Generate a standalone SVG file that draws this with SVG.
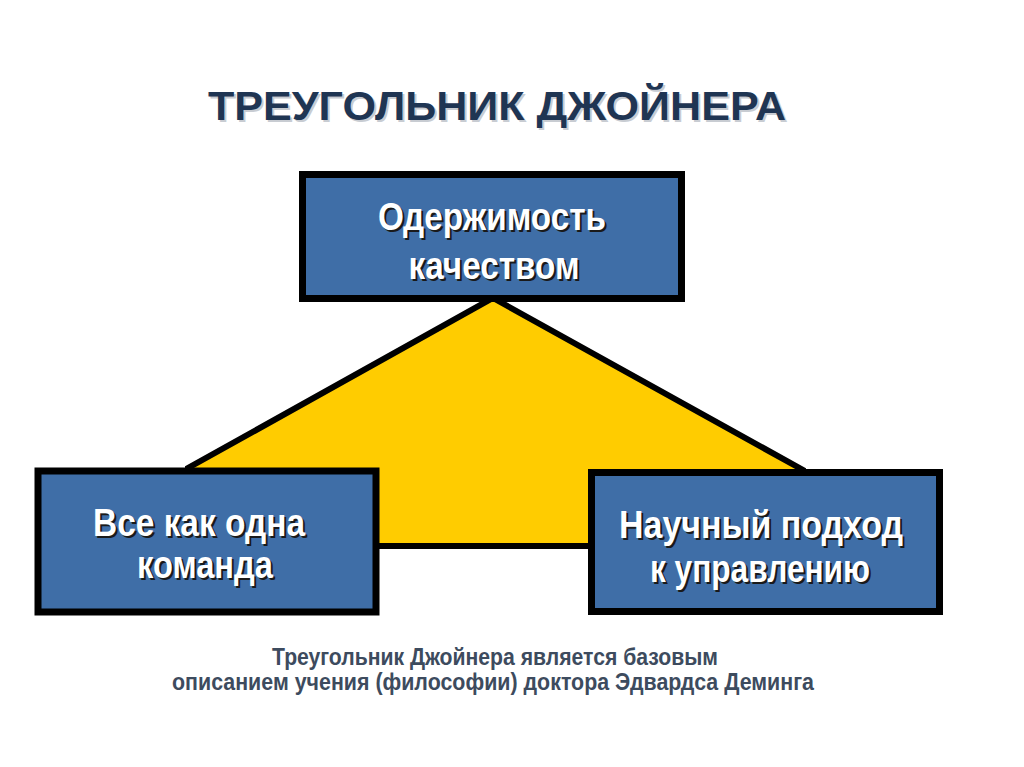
<svg xmlns="http://www.w3.org/2000/svg" width="1024" height="767" viewBox="0 0 1024 767">
<defs>
<style>
.box{fill:#3f6ea7;stroke:#000;stroke-width:7}
.bt{font-family:"Liberation Sans",Arial,sans-serif;font-weight:bold;font-size:38px;fill:#fff;text-anchor:middle}
.sh{font-family:"Liberation Sans",Arial,sans-serif;font-weight:bold;font-size:38px;fill:#1a1a1a;text-anchor:middle}
</style>
</defs>
<rect width="1024" height="767" fill="#fff"/>
<g id="title">
<text x="499" y="122" font-family="Liberation Sans,Arial,sans-serif" font-weight="bold" font-size="41" fill="#c8ccd2" text-anchor="middle" textLength="578" lengthAdjust="spacingAndGlyphs">ТРЕУГОЛЬНИК ДЖОЙНЕРА</text>
<text x="497" y="120" font-family="Liberation Sans,Arial,sans-serif" font-weight="bold" font-size="41" fill="#1f3553" text-anchor="middle" textLength="578" lengthAdjust="spacingAndGlyphs">ТРЕУГОЛЬНИК ДЖОЙНЕРА</text>
</g>
<g id="connectors">
<polygon points="493,298 803,470 803,546 188,546 188,468" fill="#ffcc00" stroke="#000" stroke-width="6" stroke-linejoin="miter"/>
</g>
<g id="node-top">
<rect class="box" x="302.5" y="174.5" width="379" height="124"/>
<text class="sh" x="494" y="232" textLength="228" lengthAdjust="spacingAndGlyphs">Одержимость</text>
<text class="bt" x="492" y="230" textLength="228" lengthAdjust="spacingAndGlyphs">Одержимость</text>
<text class="sh" x="496" y="281" textLength="171" lengthAdjust="spacingAndGlyphs">качеством</text>
<text class="bt" x="494" y="279" textLength="171" lengthAdjust="spacingAndGlyphs">качеством</text>
</g>
<g id="node-left">
<rect class="box" x="38" y="471" width="338" height="141"/>
<text class="sh" x="201" y="538" textLength="212" lengthAdjust="spacingAndGlyphs">Все как одна</text>
<text class="bt" x="199" y="536" textLength="212" lengthAdjust="spacingAndGlyphs">Все как одна</text>
<text class="sh" x="207" y="580" textLength="136" lengthAdjust="spacingAndGlyphs">команда</text>
<text class="bt" x="205" y="578" textLength="136" lengthAdjust="spacingAndGlyphs">команда</text>
</g>
<g id="node-right">
<rect class="box" x="591.5" y="472.5" width="348" height="139"/>
<text class="sh" x="763" y="540" textLength="284" lengthAdjust="spacingAndGlyphs">Научный подход</text>
<text class="bt" x="761" y="538" textLength="284" lengthAdjust="spacingAndGlyphs">Научный подход</text>
<text class="sh" x="762" y="584" textLength="220" lengthAdjust="spacingAndGlyphs">к управлению</text>
<text class="bt" x="760" y="582" textLength="220" lengthAdjust="spacingAndGlyphs">к управлению</text>
</g>
<g id="caption" font-family="Liberation Sans,Arial,sans-serif" font-weight="bold" font-size="23" fill="#3d4b5e" text-anchor="middle">
<text x="495" y="665" textLength="446" lengthAdjust="spacingAndGlyphs">Треугольник Джойнера является базовым</text>
<text x="493" y="690" textLength="642" lengthAdjust="spacingAndGlyphs">описанием учения (философии) доктора Эдвардса Деминга</text>
</g>
</svg>
